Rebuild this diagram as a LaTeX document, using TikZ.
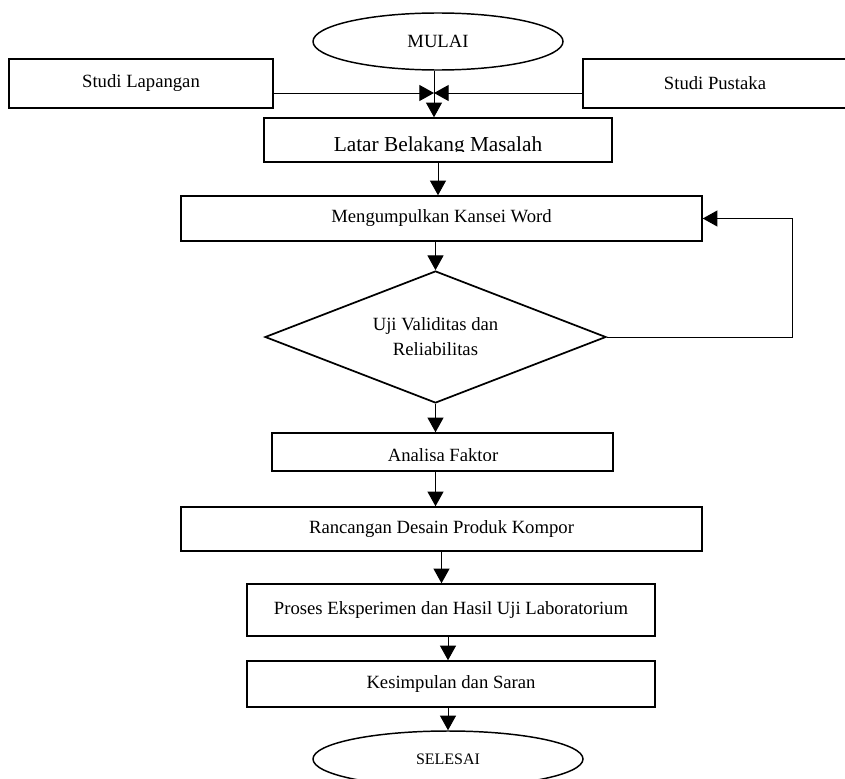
\documentclass[tikz,border=0pt]{standalone}
\usepackage{fontspec}
\setmainfont{Liberation Serif}
\usetikzlibrary{shapes.geometric,arrows.meta}

\begin{document}
\begin{tikzpicture}[x=0.75pt,y=-0.75pt,
  kotak/.style={draw,line width=1.1pt,inner sep=2pt,font=\fontsize{14}{17}\selectfont},
  terminal/.style={draw,ellipse,line width=1.1pt,inner sep=0pt},
  panah/.style={-{Triangle[length=11pt,width=12pt]},line width=0.75pt}]
\useasboundingbox (0,0) rectangle (845,778);

% Start and the two studies
\node[terminal,minimum width=187.5pt,minimum height=42.75pt,font=\fontsize{14}{17}\selectfont] (mulai) at (438,41.5) {MULAI};
\node[kotak,minimum width=198pt,minimum height=36.75pt] (lapangan) at (141,83.5) {Studi Lapangan};
\node[kotak,minimum width=198pt,minimum height=36.75pt] (pustaka) at (715,83.5) {Studi Pustaka};
\coordinate (temu) at (434,93);

% Background (text cut by its box)
\node[kotak,minimum width=261pt,minimum height=33pt] (latar) at (438,140) {};
\begin{scope}
\clip (264,118) rectangle (612,151.5);
\node[font=\fontsize{16}{19}\selectfont,anchor=base] (latarteks) at (438,151) {Latar Belakang Masalah};
\end{scope}

% Kansei words and test
\node[kotak,minimum width=390.75pt,minimum height=33.75pt] (kansei) at (441.5,218.5) {Mengumpulkan Kansei Word};
\node[draw,diamond,aspect=2.6,minimum width=255.75pt,minimum height=99pt,inner sep=0pt,line width=1.3pt,
  align=center,font=\fontsize{14}{18.75}\selectfont] (uji) at (435.5,337) {Uji Validitas dan\\Reliabilitas};

% Factor analysis (text cut by its box)
\node[kotak,minimum width=255.75pt,minimum height=28.5pt] (analisa) at (442.5,452) {};
\begin{scope}
\clip (272,433) rectangle (613,460);
\node[font=\fontsize{14}{17}\selectfont,anchor=base] (analisateks) at (443,461) {Analisa Faktor};
\end{scope}

% Design, experiment, conclusion
\node[kotak,minimum width=390.75pt,minimum height=33pt] (rancangan) at (441.5,529) {Rancangan Desain Produk Kompor};
\node[kotak,minimum width=306pt,minimum height=39pt] (proses) at (451,610) {Proses Eksperimen dan Hasil Uji Laboratorium};
\node[kotak,minimum width=306pt,minimum height=34.5pt] (simpulan) at (451,684) {Kesimpulan dan Saran};
\node[terminal,minimum width=202.5pt,minimum height=42pt,font=\fontsize{12}{14}\selectfont] (selesai) at (448,759) {SELESAI};

% Flow
\draw[panah] (lapangan.east |- temu) -- (temu);
\draw[panah] (pustaka.west |- temu) -- (temu);
\draw[panah] (temu |- mulai.south) -- (temu |- latar.north);
\draw[panah] (latar.south) -- (latar.south |- kansei.north);
\draw[panah] (uji.north |- kansei.south) -- (uji.north);
\draw[panah] (uji.south) -- (uji.south |- analisa.north);
\draw[panah] (uji.south |- analisa.south) -- (uji.south |- rancangan.north);
\draw[panah] (rancangan.south) -- (rancangan.south |- proses.north);
\draw[panah] (selesai.north |- proses.south) -- (selesai.north |- simpulan.north);
\draw[panah] (selesai.north |- simpulan.south) -- (selesai.north);

% Loop back
\draw[panah] (uji.east) -- ++(186,0) |- (kansei.east);
\end{tikzpicture}
\end{document}
